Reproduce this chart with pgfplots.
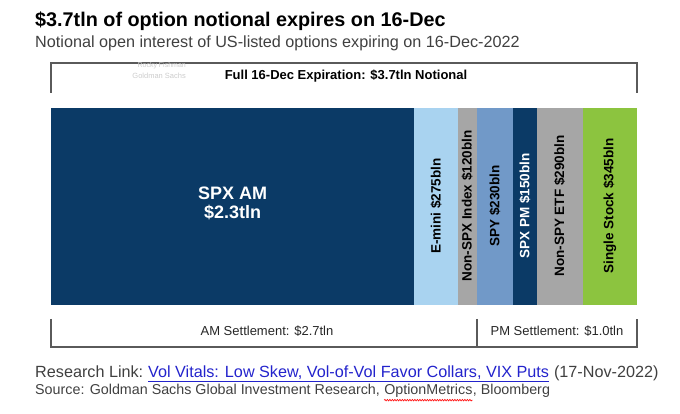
\documentclass[border=0pt]{standalone}
\usepackage{pgfplots}
\pgfplotsset{compat=1.18}
\usepackage{fontspec}
\setmainfont{Liberation Sans}
\usetikzlibrary{decorations.pathmorphing}
\definecolor{navy}{HTML}{0B3A66}
\definecolor{lblue}{HTML}{A9D3F0}
\definecolor{mgray}{HTML}{A6A6A6}
\definecolor{mblue}{HTML}{7199C8}
\definecolor{sgreen}{HTML}{8CC43F}
\definecolor{brk}{HTML}{5A5A5A}
\definecolor{linkblue}{HTML}{2323CC}
\definecolor{subgray}{HTML}{404040}
\begin{document}
\begin{tikzpicture}[x=1pt,y=1pt]
\useasboundingbox (0,0) rectangle (680,414);
% titles
\node[anchor=base west,inner sep=0,font=\fontsize{19.8}{22}\selectfont\bfseries] at (35,387) {\$3.7tln of option notional expires on 16-Dec};
\node[anchor=base west,inner sep=0,text=subgray,font=\fontsize{16.2}{18}\selectfont] at (35,366) {Notional open interest of US-listed options expiring on 16-Dec-2022};
% top bracket
\draw[brk,line width=1.4pt] (51,321) -- (51,351) -- (637,351) -- (637,321);
\node[anchor=east,inner sep=0,text=black!20,font=\fontsize{7}{8}\selectfont] at (186,348) {Rocky Fishman};
\node[anchor=east,inner sep=0,text=black!20,font=\fontsize{7.5}{8}\selectfont] at (186,338) {Goldman Sachs};
\node[inner sep=0,font=\fontsize{13}{15}\selectfont\bfseries] at (346,338) {Full 16-Dec Expiration: \$3.7tln Notional};
% bar
\begin{axis}[at={(51pt,109pt)},anchor=south west,scale only axis,width=586pt,height=197pt,
  xmin=0,xmax=3.71,ymin=0,ymax=1,hide axis,xbar stacked,bar width=197pt,clip=false]
\addplot[fill=navy,draw=none] coordinates {(2.3,0.5)};
\addplot[fill=lblue,draw=none] coordinates {(0.275,0.5)};
\addplot[fill=mgray,draw=none] coordinates {(0.12,0.5)};
\addplot[fill=mblue,draw=none] coordinates {(0.23,0.5)};
\addplot[fill=navy,draw=none] coordinates {(0.15,0.5)};
\addplot[fill=mgray,draw=none] coordinates {(0.29,0.5)};
\addplot[fill=sgreen,draw=none] coordinates {(0.345,0.5)};
\end{axis}
% segment labels (x = 51 + value*157.95)
\node[align=center,text=white,font=\fontsize{18}{19}\selectfont\bfseries] at (232.6,211) {SPX AM\\\$2.3tln};
\tikzset{seg/.style={rotate=90,inner sep=0,font=\fontsize{13.5}{15}\selectfont\bfseries}}
\node[seg] at (436.0,208) {E-mini \$275bln};
\node[seg] at (467.2,208) {Non-SPX Index \$120bln};
\node[seg] at (494.8,208) {SPY \$230bln};
\node[seg,text=white] at (524.9,208) {SPX PM \$150bln};
\node[seg] at (559.6,208) {Non-SPY ETF \$290bln};
\node[seg] at (609.7,208) {Single Stock \$345bln};
% bottom bracket
\draw[brk,line width=1.4pt] (51,95) -- (51,67) -- (637,67) -- (637,95);
\draw[brk,line width=1.4pt] (477,95) -- (477,67);
\node[inner sep=0,text=black!85,font=\fontsize{13}{15}\selectfont] at (267,83) {AM Settlement: \$2.7tln};
\node[inner sep=0,text=black!85,font=\fontsize{13}{15}\selectfont] at (557,83) {PM Settlement: \$1.0tln};
% footer
\node[anchor=base west,inner sep=0,text=subgray,font=\fontsize{16.2}{18}\selectfont] (r1) at (35,36) {Research Link:};
\node[anchor=base west,inner sep=0,text=linkblue,font=\fontsize{16.2}{18}\selectfont] (r2) at (r1.base east) {\ \underline{Vol Vitals: Low Skew, Vol-of-Vol Favor Collars, VIX Puts}};
\node[anchor=base west,inner sep=0,text=subgray,font=\fontsize{16.2}{18}\selectfont] at (r2.base east) {\ (17-Nov-2022)};
\node[anchor=base west,inner sep=0,text=subgray,font=\fontsize{14.3}{16}\selectfont] (s1) at (35,19) {Source: Goldman Sachs Global Investment Research,};
\node[anchor=base west,inner sep=0,text=subgray,font=\fontsize{14.3}{16}\selectfont] (s2) at (s1.base east) {\ OptionMetrics};
\node[anchor=base west,inner sep=0,text=subgray,font=\fontsize{14.3}{16}\selectfont] at (s2.base east) {, Bloomberg};
\draw[red,line width=0.6pt,decorate,decoration={snake,amplitude=0.8pt,segment length=2.5pt}] ([xshift=4pt,yshift=-2pt]s2.south west) -- ([yshift=-2pt]s2.south east);
\end{tikzpicture}
\end{document}
